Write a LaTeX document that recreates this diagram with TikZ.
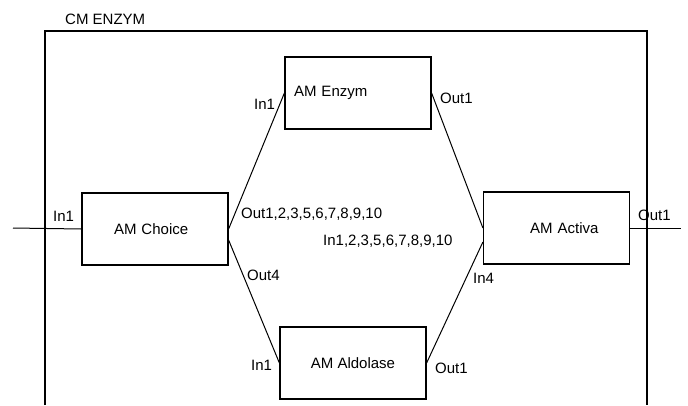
\documentclass[tikz,border=0pt]{standalone}
\usepackage{fontspec}
\setmainfont{Liberation Sans}
\begin{document}
\begin{tikzpicture}
    [
    x=1pt, y=-1pt,
    every node/.style={font=\fontsize{15}{18}\selectfont},
    block/.style={rectangle,draw,line width=1.2pt,inner sep=0pt,minimum width=146pt,minimum height=72pt},
    port/.style={anchor=base west,inner sep=0pt},
    wire/.style={line width=1pt}
    ]
    \useasboundingbox (0,0) rectangle (688,405);
    % enclosing model
    \draw [line width=1.3pt] (45,405) -- (45,31) -- (647,31) -- (647,405);
    \node (title) at (65,24) [port] {CM ENZYM};
    % blocks
    \node (choice) at (155,229) [block,inner xsep=32pt,text width=82pt,align=left] {AM Choice};
    \node (enzym) at (358,93) [block,inner xsep=9pt,text width=128pt,align=left] {AM Enzym};
    \node (aldolase) at (353,363) [block] {AM Aldolase};
    \node (activa) at (556.5,228) [block,inner xsep=31pt,text width=84pt,align=right] {AM Activa};
    \coordinate (in) at (13,228);
    \coordinate (out) at (681,228);
    % port labels
    \node (choice in) at (53,221) [port] {In1};
    \node (choice out) at (241,218) [port] {Out1,2,3,5,6,7,8,9,10};
    \node (choice out4) at (247,280) [port] {Out4};
    \node (enzym in) at (254,109) [port] {In1};
    \node (enzym out) at (440,103) [port] {Out1};
    \node (aldolase in) at (251,370) [port] {In1};
    \node (aldolase out) at (435,373) [port] {Out1};
    \node (activa in) at (323,245) [port] {In1,2,3,5,6,7,8,9,10};
    \node (activa in4) at (473,283) [port] {In4};
    \node (activa out) at (638,220) [port] {Out1};
    % connections
    \draw [wire] (in) to (choice.west);
    \draw [wire] (choice.east) to (enzym.west);
    \draw [wire] (enzym.east) to (activa.west);
    \draw [wire] ([yshift=-11pt]choice.east) to (aldolase.west);
    \draw [wire] (aldolase.east) to ([yshift=-14pt]activa.west);
    \draw [wire] (activa.east) to (out);
  \end{tikzpicture}
\end{document}
